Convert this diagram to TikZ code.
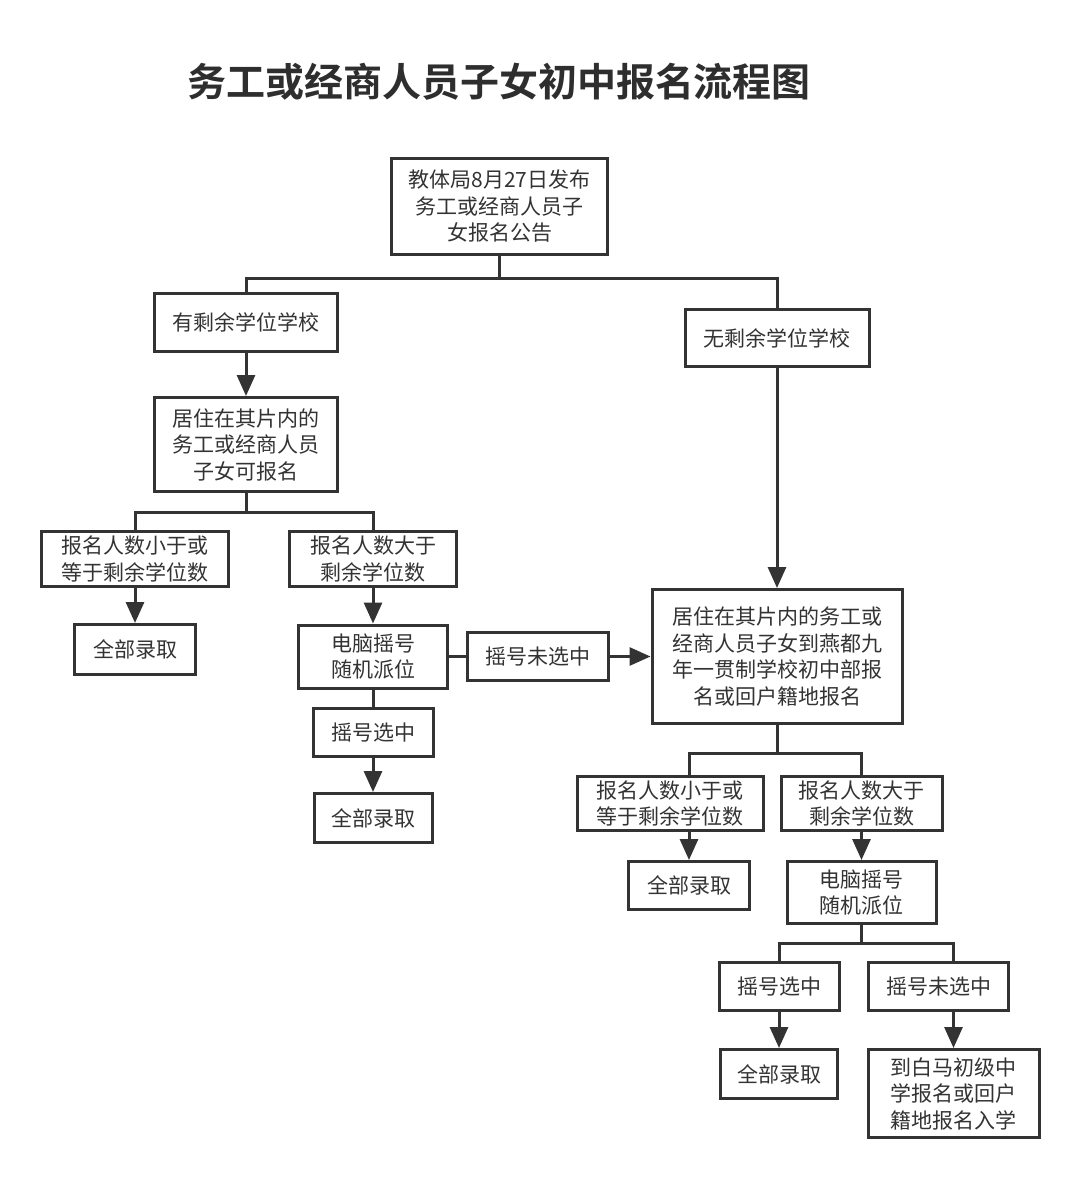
\documentclass[tikz,border=0pt]{standalone}
\usepackage{fontspec}
\usetikzlibrary{arrows.meta}
\newfontfamily\cjk{Noto Sans CJK SC}
\newfontfamily\cjkbold{Noto Sans CJK SC Bold}
\definecolor{ink}{HTML}{333333}
\begin{document}
\begin{tikzpicture}[x=1pt,y=-1pt,>={Triangle[length=21pt,width=18pt]}]
        \tikzstyle{box}=[rectangle,draw=ink,line width=3pt,inner sep=0pt,align=center,text=ink,font=\cjk\fontsize{21}{26.5}\selectfont]
        \tikzstyle{edge}=[draw=ink, line width=3pt]
        \useasboundingbox[fill=white] (0,0) rectangle (1080,1179);
        \node [font=\cjkbold\fontsize{39}{47}\selectfont,text=ink!90!black] (title) at (499,82) {务工或经商人员子女初中报名流程图};
        % left branch
        \node [box,minimum width=216,minimum height=96] (notice) at (499.5,206.5) {教体局8月27日发布\\务工或经商人员子\\女报名公告};
        \node [box,minimum width=183,minimum height=58] (spare) at (246,322.5) {有剩余学位学校};
        \node [box,minimum width=183,minimum height=94] (live) at (246,444.5) {居住在其片内的\\务工或经商人员\\子女可报名};
        \node [box,minimum width=187,minimum height=55] (less) at (135,559) {报名人数小于或\\等于剩余学位数};
        \node [box,minimum width=167,minimum height=55] (more) at (373,559) {报名人数大于\\剩余学位数};
        \node [box,minimum width=121,minimum height=50] (admit) at (135,649.5) {全部录取};
        \node [box,minimum width=149,minimum height=63] (lottery) at (373,656.5) {电脑摇号\\随机派位};
        \node [box,minimum width=141,minimum height=48] (miss) at (538,656.5) {摇号未选中};
        \node [box,minimum width=120,minimum height=48] (hit) at (373,732.5) {摇号选中};
        \node [box,minimum width=118,minimum height=49] (admitb) at (373,818) {全部录取};
        % right branch
        \node [box,minimum width=184,minimum height=57] (nospare) at (777,338) {无剩余学位学校};
        \node [box,minimum width=250,minimum height=134] (yandu) at (777,656.5) {居住在其片内的务工或\\经商人员子女到燕都九\\年一贯制学校初中部报\\名或回户籍地报名};
        \node [box,minimum width=186,minimum height=54] (rless) at (670,803.5) {报名人数小于或\\等于剩余学位数};
        \node [box,minimum width=161,minimum height=54] (rmore) at (861.5,803.5) {报名人数大于\\剩余学位数};
        \node [box,minimum width=121,minimum height=48] (radmit) at (689,885.5) {全部录取};
        \node [box,minimum width=149,minimum height=62] (rlottery) at (861.5,892.5) {电脑摇号\\随机派位};
        \node [box,minimum width=120,minimum height=48] (rhit) at (779,986.5) {摇号选中};
        \node [box,minimum width=140,minimum height=48] (rmiss) at (938.5,986.5) {摇号未选中};
        \node [box,minimum width=117,minimum height=49] (radmitb) at (779,1074) {全部录取};
        \node [box,minimum width=171,minimum height=88] (baima) at (953.5,1093.5) {到白马初级中\\学报名或回户\\籍地报名入学};
        % connectors
        \path[edge] (notice.south) -- ++(0,22.5) -| (spare.north);
        \path[edge] (notice.south) -- ++(0,22.5) -| (nospare.north);
        \path[edge,->] (spare) -- (live);
        \path[edge] (live.south) -- ++(0,19.5) -| (less.north);
        \path[edge] (live.south) -- ++(0,19.5) -| (more.north);
        \path[edge,->] (less) -- (admit);
        \path[edge,->] (more) -- (lottery);
        \path[edge] (lottery) -- (miss);
        \path[edge,->] (miss) -- (yandu);
        \path[edge] (lottery) -- (hit);
        \path[edge,->] (hit) -- (admitb);
        \path[edge,->] (nospare) -- (yandu);
        \path[edge] (yandu.south) -- ++(0,28) -| (radmit.north |- rless.north);
        \path[edge] (yandu.south) -- ++(0,28) -| (rmore.north);
        \path[edge,->] (rless.south -| radmit.north) -- (radmit.north);
        \path[edge,->] (rmore) -- (rlottery);
        \path[edge] (rlottery.south) -- ++(0,18.5) -| (rhit.north);
        \path[edge] (rlottery.south) -- ++(0,18.5) -| (baima.north |- rmiss.north);
        \path[edge,->] (rhit) -- (radmitb);
        \path[edge,->] (rmiss.south -| baima.north) -- (baima.north);
\end{tikzpicture}
\end{document}
